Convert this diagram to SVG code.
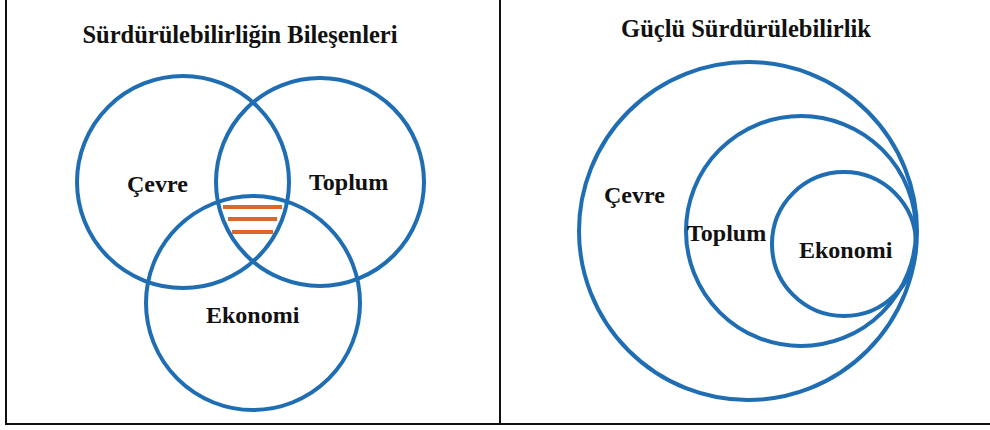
<svg xmlns="http://www.w3.org/2000/svg" width="990" height="430" viewBox="0 0 990 430">
<style>
.c{fill:none;stroke:#1f6db3;stroke-width:4}
.t{font-family:"Liberation Serif","Times New Roman",serif;font-weight:bold;fill:#111}
.title{font-size:24.5px}
.lbl{font-size:24px}
.h{stroke:#e0652b;stroke-width:4;stroke-linecap:butt}
.frame{stroke:#111;stroke-width:2;fill:none}
</style>
<rect width="990" height="430" fill="#fff"/>
<g id="frame">
<line class="frame" x1="6" y1="0" x2="6" y2="424"/>
<line class="frame" x1="5" y1="424" x2="990" y2="424"/>
<line class="frame" x1="500" y1="0" x2="500" y2="424"/>
</g>
<g id="left-panel">
<text class="t title" x="240" y="43" text-anchor="middle">Sürdürülebilirliğin Bileşenleri</text>
<g id="cevre1"><circle class="c" cx="183" cy="182" r="106"/><text class="t lbl" x="127" y="192">Çevre</text></g>
<g id="toplum1"><circle class="c" cx="320" cy="182" r="104"/><text class="t lbl" x="309" y="190">Toplum</text></g>
<g id="ekonomi1"><circle class="c" cx="253" cy="303" r="107"/><text class="t lbl" x="206" y="323">Ekonomi</text></g>
<g id="hatch">
<line class="h" x1="223" y1="207" x2="282" y2="207"/>
<line class="h" x1="228" y1="219" x2="277" y2="219"/>
<line class="h" x1="232" y1="232" x2="273" y2="232"/>
</g>
</g>
<g id="right-panel">
<text class="t title" x="746" y="37" text-anchor="middle">Güçlü Sürdürülebilirlik</text>
<g id="cevre2"><circle class="c" cx="748" cy="231" r="169"/><text class="t lbl" x="604" y="203">Çevre</text></g>
<g id="toplum2"><circle class="c" cx="801" cy="231" r="115"/><text class="t lbl" x="687" y="241">Toplum</text></g>
<g id="ekonomi2"><circle class="c" cx="844" cy="244" r="72"/><text class="t lbl" x="799" y="258">Ekonomi</text></g>
</g>
</svg>
